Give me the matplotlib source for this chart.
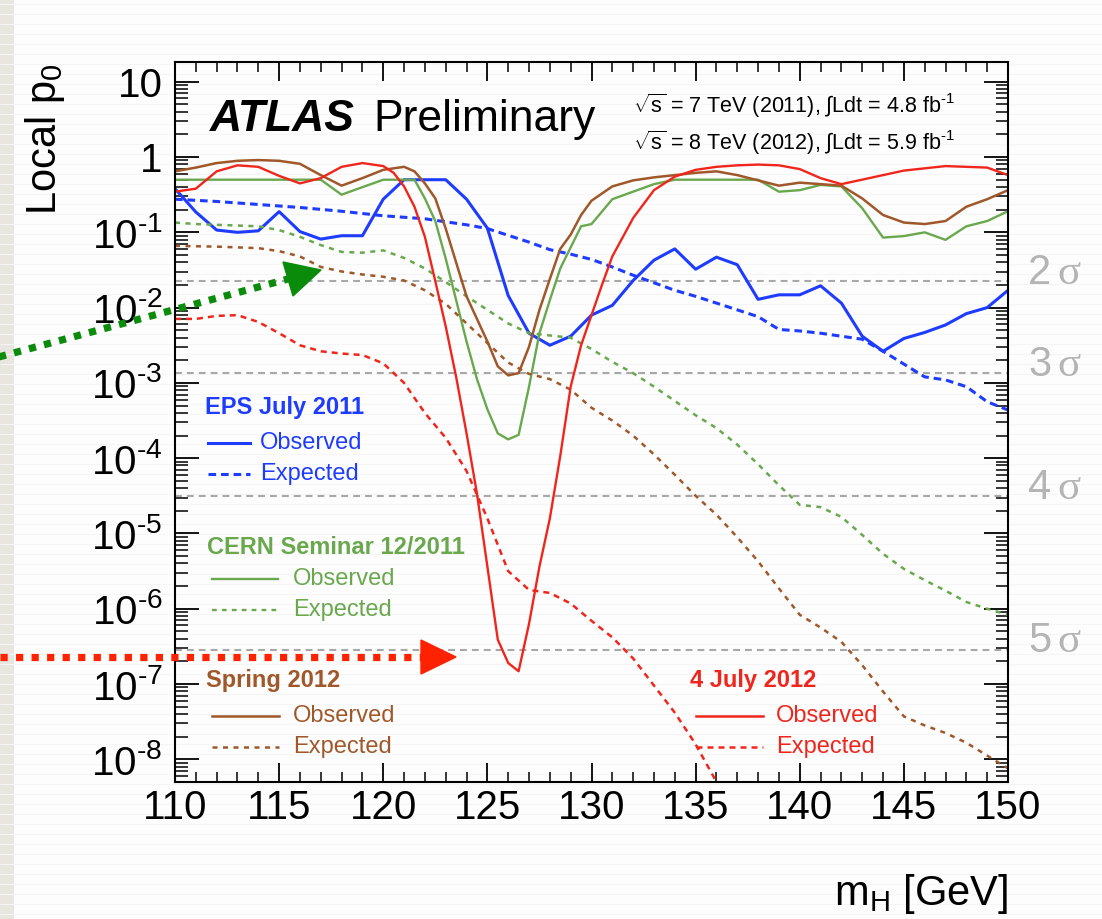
import numpy as np
import matplotlib.pyplot as plt
from matplotlib.lines import Line2D
from matplotlib.patches import Polygon, Rectangle
from matplotlib.ticker import LogLocator, MultipleLocator, NullFormatter

plt.rcParams['font.family'] = ['Liberation Sans', 'DejaVu Sans']
plt.rcParams['mathtext.fontset'] = 'custom'
plt.rcParams['mathtext.rm'] = 'Liberation Sans'
plt.rcParams['mathtext.it'] = 'Liberation Sans:italic'
plt.rcParams['mathtext.bf'] = 'Liberation Sans:bold'
plt.rcParams['mathtext.default'] = 'regular'

# ---- data: log10 of local p0 versus mH [GeV] ----
mass_1gev = list(range(110, 151))

eps_obs = [-0.42, -0.73, -0.97, -1.00, -0.98, -0.725, -0.99, -1.09, -1.045, -1.045,
           -0.56, -0.301, -0.301, -0.301, -0.56, -0.945, -1.84, -2.34, -2.50, -2.38,
           -2.10, -1.97, -1.64, -1.37, -1.22, -1.49, -1.33, -1.43, -1.89, -1.83,
           -1.83, -1.71, -1.94, -2.38, -2.58, -2.41, -2.33, -2.23, -2.08, -2.00, -1.77]
eps_exp = [-0.56, -0.575, -0.59, -0.61, -0.63, -0.65, -0.67, -0.695, -0.72, -0.75,
           -0.78, -0.80, -0.82, -0.86, -0.90, -0.95, -1.04, -1.13, -1.23, -1.29,
           -1.36, -1.46, -1.57, -1.67, -1.77, -1.85, -1.94, -2.03, -2.12, -2.29,
           -2.31, -2.34, -2.38, -2.42, -2.58, -2.75, -2.92, -2.96, -3.05, -3.25, -3.36]

mass_fine = [110, 111, 112, 113, 114, 115, 116, 117, 118, 119, 120, 121, 121.5,
             122, 122.5, 123, 123.5, 124, 124.5, 125, 125.5, 126, 126.5, 127, 127.5,
             128, 128.5, 129, 129.5, 130, 131, 132, 133, 134, 135, 136, 137, 138,
             139, 140, 141, 142, 143, 144, 145, 146, 147, 148, 149, 150]

cern_obs = [-0.301, -0.301, -0.301, -0.301, -0.301, -0.301, -0.301, -0.301, -0.50, -0.40,
            -0.301, -0.301, -0.301,
            -0.55, -0.85, -1.35, -1.90, -2.45, -2.95, -3.35, -3.67, -3.75, -3.69, -3.05, -2.34,
            -1.90, -1.48, -1.20, -0.92,
            -0.89, -0.56, -0.46, -0.36, -0.301, -0.301, -0.301, -0.301, -0.301,
            -0.46, -0.44, -0.37, -0.39, -0.68, -1.07, -1.05, -1.00, -1.10, -0.92, -0.85, -0.72]
cern_exp = [-0.87, -0.89, -0.90, -0.91, -0.92, -0.97, -1.06, -1.17, -1.26, -1.27,
            -1.24, -1.34, -1.48, -1.66, -1.85, -2.03, -2.21, -2.34, -2.37, -2.40,
            -2.55, -2.72, -2.87, -3.05, -3.24, -3.43, -3.60, -3.82, -4.08, -4.36,
            -4.62, -4.65, -4.78, -5.02, -5.27, -5.47, -5.62, -5.76, -5.91, -6.00, -6.08]

spring_obs = [-0.19, -0.14, -0.08, -0.05, -0.04, -0.05, -0.09, -0.24, -0.38, -0.28,
              -0.17, -0.13, -0.19,
              -0.35, -0.55, -0.95, -1.40, -1.85, -2.15, -2.45, -2.78, -2.90, -2.87, -2.52, -2.03,
              -1.62, -1.22, -1.03, -0.77,
              -0.58, -0.39, -0.31, -0.27, -0.24, -0.21, -0.19, -0.24, -0.31,
              -0.38, -0.34, -0.36, -0.38, -0.55, -0.77, -0.87, -0.89, -0.85, -0.66, -0.56, -0.44]
spring_exp = [-1.18, -1.185, -1.19, -1.20, -1.21, -1.25, -1.32, -1.46, -1.52, -1.56,
              -1.59, -1.64, -1.77, -1.95, -2.21, -2.47, -2.73, -2.88, -2.95, -3.09,
              -3.33, -3.50, -3.70, -3.95, -4.22, -4.50, -4.75, -5.05, -5.37, -5.73,
              -6.08, -6.25, -6.44, -6.75, -7.10, -7.43, -7.55, -7.65, -7.78, -7.95, -8.12]

mass_jul12 = [110, 111, 112, 113, 114, 115, 116, 117, 118, 119,
              120, 120.5, 121, 121.5, 122, 122.5, 123, 123.5, 124, 124.5, 125, 125.5,
              126, 126.5, 127, 127.5, 128, 128.5, 129, 129.5, 130, 130.5, 131,
              132, 133, 134, 135, 136, 137, 138, 139, 140, 141, 142, 143, 144, 145,
              146, 147, 148, 149, 150]
jul12_obs = [-0.46, -0.42, -0.19, -0.11, -0.13, -0.25, -0.35, -0.28, -0.13, -0.08,
             -0.12, -0.21, -0.39, -0.66, -1.06, -1.65, -2.25, -2.92, -3.67, -4.47, -5.44, -6.41,
             -6.72, -6.83, -6.20, -5.44, -4.80, -3.97, -3.05, -2.50, -2.10, -1.70, -1.32,
             -0.81, -0.44, -0.26, -0.17, -0.13, -0.11, -0.10, -0.11, -0.16, -0.28, -0.36, -0.30,
             -0.24, -0.18, -0.15, -0.12, -0.13, -0.14, -0.24]
mass_jul12_exp = list(range(110, 138))
jul12_exp = [-2.15, -2.15, -2.11, -2.10, -2.19, -2.34, -2.50, -2.58, -2.61, -2.63,
             -2.74, -3.00, -3.40, -3.73, -4.17, -4.80, -5.50, -5.75, -5.79, -5.93,
             -6.16, -6.38, -6.66, -7.02, -7.38, -7.80, -8.30, -8.80]

sigma_labels = ['2', '3', '4', '5']
sigma_p0 = [2.275e-2, 1.35e-3, 3.167e-5, 2.867e-7]

y_major = [1e-8, 1e-7, 1e-6, 1e-5, 1e-4, 1e-3, 1e-2, 1e-1, 1, 10]
y_labels = [r'$10^{\text{-}8}$', r'$10^{\text{-}7}$', r'$10^{\text{-}6}$', r'$10^{\text{-}5}$',
            r'$10^{\text{-}4}$', r'$10^{\text{-}3}$', r'$10^{\text{-}2}$', r'$10^{\text{-}1}$',
            '1', '10']

c_blue = '#1e3cff'
c_green = '#69a84d'
c_brown = '#a0582a'
c_red = '#f0261c'

W, H = 1102, 919


def fx(px):
    return px / W


def fy(py):
    return 1 - py / H


fig = plt.figure(figsize=(W / 100, H / 100), dpi=100)
fig.patch.set_facecolor('#fdfdfd')

# slide background: faint pinstripes and a grey strip on the left
bg = fig.add_axes([0, 0, 1, 1], zorder=-10)
bg.set_xlim(0, W)
bg.set_ylim(H, 0)
bg.axis('off')
bg.hlines(np.arange(4, H, 10), 0, W, color='#f5f5f5', lw=0.8)
bg.add_patch(Rectangle((0, 0), 14, H, color='#e9e6e0', lw=0))

ax = fig.add_axes([fx(175), fy(782), 833 / W, 720 / H])
ax.set_facecolor('none')
ax.set_yscale('log')
ax.set_xlim(110, 150)
ax.set_ylim(5e-9, 18.3)

for p in sigma_p0:
    ax.axhline(p, color='#a8a8a8', lw=1.5, dashes=(3.3, 2.4), zorder=1)

ax.plot(mass_1gev, 10 ** np.array(eps_exp), color=c_blue, lw=2.2, dashes=(2.5, 1.6))
ax.plot(mass_1gev, 10 ** np.array(eps_obs), color=c_blue, lw=2.2)
ax.plot(mass_1gev, 10 ** np.array(cern_exp), color=c_green, lw=1.8, dashes=(2.0, 2.2))
ax.plot(mass_fine, 10 ** np.array(cern_obs), color=c_green, lw=1.7)
ax.plot(mass_1gev, 10 ** np.array(spring_exp), color=c_brown, lw=1.8, dashes=(2.0, 2.2))
ax.plot(mass_fine, 10 ** np.array(spring_obs), color=c_brown, lw=1.8)
ax.plot(mass_jul12_exp, 10 ** np.array(jul12_exp), color=c_red, lw=1.8, dashes=(2.4, 2.0))
ax.plot(mass_jul12, 10 ** np.array(jul12_obs), color=c_red, lw=1.7)

# axis styling: ticks inside on all four sides
ax.set_yticks(y_major)
ax.set_yticklabels(y_labels)
ax.yaxis.set_minor_locator(LogLocator(base=10, subs=np.arange(2, 10), numticks=30))
ax.yaxis.set_minor_formatter(NullFormatter())
ax.set_xticks(range(110, 151, 5))
ax.xaxis.set_minor_locator(MultipleLocator(1))
ax.tick_params(which='both', direction='in', top=True, right=True, labelsize=29)
ax.tick_params(axis='y', which='major', length=17, width=1.3, pad=9)
ax.tick_params(axis='y', which='minor', length=9, width=1.1)
ax.tick_params(axis='x', which='major', length=14, width=1.3, pad=5)
ax.tick_params(axis='x', which='minor', length=7, width=1.1)
for s in ax.spines.values():
    s.set_linewidth(1.5)

fig.text(fx(45), fy(63), r'Local p$_{0}$', rotation=90, ha='center', va='top', fontsize=30)
fig.text(fx(1008), fy(905), r'm$_{H}$ [GeV]', ha='right', va='baseline', fontsize=30)

fig.text(fx(210), fy(131), 'ATLAS', fontsize=32, fontweight='bold', fontstyle='italic', va='baseline')
fig.text(fx(373), fy(131), 'Preliminary', fontsize=32, va='baseline')
fig.text(fx(633), fy(113), r'$\sqrt{s}$ = 7 TeV (2011), ∫Ldt = 4.8 fb$^{\text{-}1}$',
         fontsize=15.5, va='baseline')
fig.text(fx(633), fy(150), r'$\sqrt{s}$ = 8 TeV (2012), ∫Ldt = 5.9 fb$^{\text{-}1}$',
         fontsize=15.5, va='baseline')

# significance labels to the right of the frame
for lab, p in zip(sigma_labels, sigma_p0):
    ax.annotate(lab, xy=(fx(1028), p), xycoords=('figure fraction', 'data'),
                xytext=(0, -2), textcoords='offset points', va='baseline',
                fontsize=30, color='#b4b4b4', annotation_clip=False)
    ax.annotate('σ', xy=(fx(1057), p), xycoords=('figure fraction', 'data'),
                xytext=(0, -2), textcoords='offset points', va='baseline',
                fontsize=31, color='#b4b4b4', family='Liberation Serif',
                annotation_clip=False)

# hand-made legend blocks
legend_blocks = [
    ('EPS July 2011', c_blue, 205, 408, 208, 250, 260, 443, 474, 2.2, (2.5, 1.6)),
    ('CERN Seminar 12/2011', c_green, 207, 547, 212, 278, 293, 579, 610, 1.7, (2.0, 2.2)),
    ('Spring 2012', c_brown, 206, 680, 212, 279, 293, 716, 747, 1.8, (2.0, 2.2)),
    ('4 July 2012', c_red, 690, 681, 696, 763, 776, 716, 747, 1.8, (2.4, 2.0)),
]
for title, col, tx, ty, lx0, lx1, lab_x, y_obs, y_exp, lw, dash in legend_blocks:
    fig.text(fx(tx), fy(ty), title, color=col, fontsize=17, fontweight='bold', va='center')
    fig.add_artist(Line2D([fx(lx0), fx(lx1)], [fy(y_obs)] * 2, color=col, lw=lw))
    fig.add_artist(Line2D([fx(lx0), fx(lx1)], [fy(y_exp)] * 2, color=col, lw=lw, dashes=dash))
    fig.text(fx(lab_x), fy(y_obs), 'Observed', color=col, fontsize=17, va='center')
    fig.text(fx(lab_x), fy(y_exp), 'Expected', color=col, fontsize=17, va='center')

# dotted pointer arrows
green_arrow = '#0a8c0a'
fig.add_artist(Line2D([fx(-5), fx(288)], [fy(358), fy(279)], color=green_arrow, lw=5.2,
                      dashes=(1.0, 1.15), dash_capstyle='butt'))
fig.add_artist(Polygon([(fx(283), fy(262)), (fx(321), fy(270)), (fx(293), fy(296))],
                       closed=True, color=green_arrow, transform=fig.transFigure))
red_arrow = '#ff2200'
fig.add_artist(Line2D([fx(0), fx(421)], [fy(657), fy(657)], color=red_arrow, lw=5.2,
                      dashes=(1.0, 1.15), dash_capstyle='butt'))
fig.add_artist(Polygon([(fx(421), fy(640)), (fx(456), fy(657)), (fx(421), fy(674))],
                       closed=True, color=red_arrow, transform=fig.transFigure))

fig.savefig('out.png', dpi=100, facecolor=fig.get_facecolor())
